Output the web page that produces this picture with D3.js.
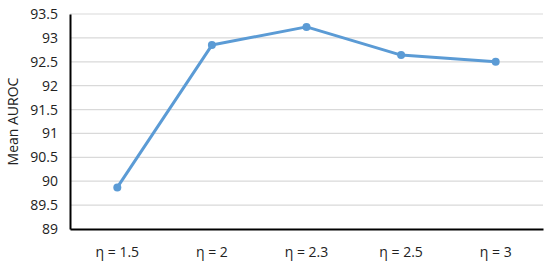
<!DOCTYPE html>
<html>
<head>
<meta charset="utf-8">
<script src="https://cdn.jsdelivr.net/npm/d3@7"></script>
<style>
  body { margin: 0; background: #fff; }
  text { font-family: "Open Sans", "Liberation Sans", sans-serif; fill: #222; }
</style>
</head>
<body>
<div id="chart"></div>
<script>
const categories = ["η = 1.5", "η = 2", "η = 2.3", "η = 2.5", "η = 3"];
const meanAuroc = [89.87, 92.85, 93.23, 92.64, 92.50];
const yTicks = [89, 89.5, 90, 90.5, 91, 91.5, 92, 92.5, 93, 93.5];

const svgWidth = 550;
const svgHeight = 265;
const plotLeft = 70, plotRight = 543, plotTop = 14, plotBottom = 229;

const xScale = d3.scaleBand().domain(categories).range([plotLeft, plotRight]);
const yScale = d3.scaleLinear().domain([89, 93.5]).range([plotBottom, plotTop]);

const svg = d3.select("#chart")
    .append("svg")
    .attr("width", svgWidth)
    .attr("height", svgHeight);

// gridlines
svg.append("g")
    .selectAll("line")
    .data(yTicks.slice(1))
    .enter()
    .append("line")
    .attr("x1", plotLeft)
    .attr("x2", plotRight)
    .attr("y1", d => yScale(d))
    .attr("y2", d => yScale(d))
    .attr("stroke", "#d9d9d9")
    .attr("stroke-width", 1.2);

// y axis
const yAxis = d3.axisLeft(yScale).tickValues(yTicks).tickSize(0).tickPadding(12)
    .tickFormat(d => d3.format("")(d));
svg.append("g")
    .attr("transform", `translate(${plotLeft}, 0)`)
    .call(yAxis)
    .call(g => g.select(".domain").attr("stroke", "#000").attr("stroke-width", 2))
    .call(g => g.selectAll("text").attr("font-size", 14).attr("font-family", null).attr("fill", "#222"));

// x axis
const xAxis = d3.axisBottom(xScale).tickSize(0).tickPadding(18);
svg.append("g")
    .attr("transform", `translate(0, ${plotBottom})`)
    .call(xAxis)
    .call(g => g.select(".domain").attr("stroke", "#000").attr("stroke-width", 2))
    .call(g => g.selectAll("text").attr("font-size", 14).attr("font-family", null).attr("fill", "#222"));

// axis label
svg.append("text")
    .attr("transform", `translate(18, ${(plotTop + plotBottom) / 2}) rotate(-90)`)
    .attr("text-anchor", "middle")
    .attr("font-size", 14)
    .text("Mean AUROC");

const cx = d => xScale(d) + xScale.bandwidth() / 2;

const line = d3.line()
    .x((d, i) => cx(categories[i]))
    .y(d => yScale(d));

svg.append("path")
    .datum(meanAuroc)
    .attr("d", line)
    .attr("fill", "none")
    .attr("stroke", "#5b9bd5")
    .attr("stroke-width", 3)
    .attr("stroke-linejoin", "round");

svg.append("g")
    .selectAll("circle")
    .data(meanAuroc)
    .enter()
    .append("circle")
    .attr("cx", (d, i) => cx(categories[i]))
    .attr("cy", d => yScale(d))
    .attr("r", 4)
    .attr("fill", "#5b9bd5");
</script>
</body>
</html>
